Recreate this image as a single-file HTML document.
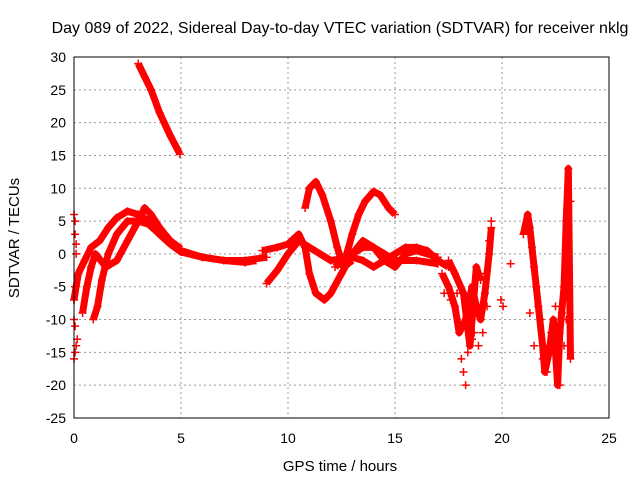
<!DOCTYPE html>
<html><head><meta charset="utf-8"><style>
body{margin:0;background:#fff}
svg{display:block;font-family:"Liberation Sans",sans-serif}
</style></head><body>
<svg id="chart" width="640" height="480">
<text x="340" y="33" font-size="16" text-anchor="middle">Day 089 of 2022, Sidereal Day-to-day VTEC variation (SDTVAR) for receiver nklg</text>
<text x="340" y="471" font-size="15" text-anchor="middle">GPS time / hours</text>
<text transform="translate(19,238) rotate(-90)" font-size="15" text-anchor="middle">SDTVAR / TECUs</text>
<g id="grid"></g><g id="ticks"></g><g id="marks"></g>
<rect x="74" y="57" width="535" height="361" fill="none" stroke="#000" stroke-width="1"/>
</svg>
<script>
const xTicks=[0,5,10,15,20,25];
const yTicks=[30,25,20,15,10,5,0,-5,-10,-15,-20,-25];
const seriesA=[[3,29],[3.3,27],[3.6,25],[4,21.5],[4.5,18],[4.95,15.2]];
const seriesB1=[[0,-7],[0.2,-3],[0.5,-1],[0.8,1],[1.2,2],[1.6,4],[2,5.5],[2.5,6.5],[3,6],[3.5,5],[4,3],[4.5,1.5],[5,0.5],[6,-0.5],[7,-1],[8,-1.3],[8.5,-1]];
const seriesB2=[[0.9,-10],[1.1,-8],[1.3,-4],[1.6,0],[2,3],[2.5,5],[3,5],[3.5,4.5],[4,3],[4.5,1.5],[5,0.3],[6,-0.5],[7,-1],[8,-1],[9,-0.5]];
const seriesB3=[[0.4,-9],[0.6,-5],[0.8,-2],[1,0],[1.5,-2],[2,-1],[2.5,2],[3,5],[3.3,7],[3.6,6],[4,4],[4.5,2],[5,0.8]];
const seriesB4=[[0,6],[0.05,5],[0.05,3],[0.1,1.5],[0.1,0],[0.05,-5],[0,-7],[0,-10],[0.05,-11],[0.05,-15],[0,-16],[0.1,-14],[0.15,-13]];
const seriesC1=[[10.8,7],[11,10],[11.3,11],[11.6,9],[12,5],[12.3,1],[12.6,-2],[13,-1]];
const seriesC2=[[8.8,0.5],[9.5,1],[10,1.5],[10.5,3],[10.8,1],[11,-3],[11.3,-6],[11.7,-7],[12,-6],[12.5,-3],[13,0],[13.5,1],[14,1],[14.5,0],[15,-1],[16,-1],[17,-1.5]];
const seriesD=[[12.2,-2],[12.7,-0.5],[13,3],[13.3,6],[13.6,8],[14,9.5],[14.3,9],[14.7,7],[15,6]];
const seriesE1=[[9,-4.5],[9.5,-2.5],[10,0],[10.5,2],[11,1],[12,-1],[13,-0.5],[13.5,-1],[14,-2],[14.5,-1],[15,0],[15.5,1],[16,1],[16.5,0.5],[17,-1],[17.5,-2]];
const seriesE2=[[13,0],[13.5,2],[14,1],[14.5,-1],[15,-2],[15.5,0],[16,0.5],[17,-0.5]];
const seriesF1=[[17.2,-3],[17.5,-5],[17.8,-8],[18,-12],[18.3,-10],[18.6,-5],[18.8,-8],[19,-10],[19.2,-6],[19.4,0],[19.5,4]];
const seriesF2=[[17.5,-1],[17.8,-3],[18.2,-6],[18.5,-14],[18.8,-2],[19,-4]];
const seriesG=[[21,3],[21.2,6],[21.3,4],[21.5,-2],[21.7,-8],[21.9,-14],[22,-18],[22.2,-15],[22.4,-10],[22.6,-20],[22.7,-12],[22.9,-5],[23,5],[23.1,13],[23.2,-16]];
const seriesPts=[[19.95,-7],[20.05,-8],[20.4,-1.5],[18.3,-20],[18.2,-18],[18.1,-16],[18.4,-15],[18.7,-12],[18.9,-14],[19.1,-12],[19.2,-3],[19.3,-8],[19.5,5],[19.4,2],[17.9,-6],[18.6,-13],[17.3,-6],[17.6,-7],[21.1,4],[21.4,1],[21.6,-5],[21.8,-10],[21.9,-16],[22.1,-18],[22.3,-12],[22.5,-8],[22.8,-9],[22.9,-14],[23,-10],[23.1,-6],[23.2,8],[21.3,-9],[21.5,-14],[22.7,-20]];
const lines=[seriesA,seriesB1,seriesB2,seriesB3,seriesC1,seriesC2,seriesD,seriesE1,seriesE2,seriesF1,seriesF2,seriesG];
const NS='http://www.w3.org/2000/svg';
const X=v=>74+v*535/25, Y=v=>57+(30-v)*361/55;
const g=document.getElementById('grid'),t=document.getElementById('ticks'),m=document.getElementById('marks');
function mk(tag,at,p){const e=document.createElementNS(NS,tag);for(const k in at)e.setAttribute(k,at[k]);p.appendChild(e);return e;}
xTicks.forEach(v=>{
 if(v>0&&v<25){const l=mk('line',{x1:X(v),x2:X(v),y1:57,y2:418,stroke:'#999','stroke-dasharray':'2,3'},g);
 
 }
 const s=mk('text',{x:X(v),y:443,'font-size':14,'text-anchor':'middle'},t);s.textContent=v;
 
 
});
yTicks.forEach(v=>{
 if(v>-25&&v<30){const l=mk('line',{x1:74,x2:609,y1:Y(v),y2:Y(v),stroke:'#999','stroke-dasharray':'2,3'},g);
 
 }
 const s=mk('text',{x:66,y:Y(v)+5,'font-size':14,'text-anchor':'end'},t);s.textContent=v;
 
 
});
function plus(p){
 const e=mk('path',{d:`M${X(p[0])-4},${Y(p[1])}h8M${X(p[0])},${Y(p[1])-4}v8`,stroke:'#f00','stroke-width':1.5},m);
 
 
}
lines.forEach(s=>{
 const l=mk('polyline',{points:s.map(p=>X(p[0])+','+Y(p[1])).join(' '),fill:'none',stroke:'#f00','stroke-width':7,'stroke-linejoin':'round'},m);
 
 
 s.forEach(plus);
});
seriesB4.forEach(plus);seriesPts.forEach(plus);
</script>
</body></html>
